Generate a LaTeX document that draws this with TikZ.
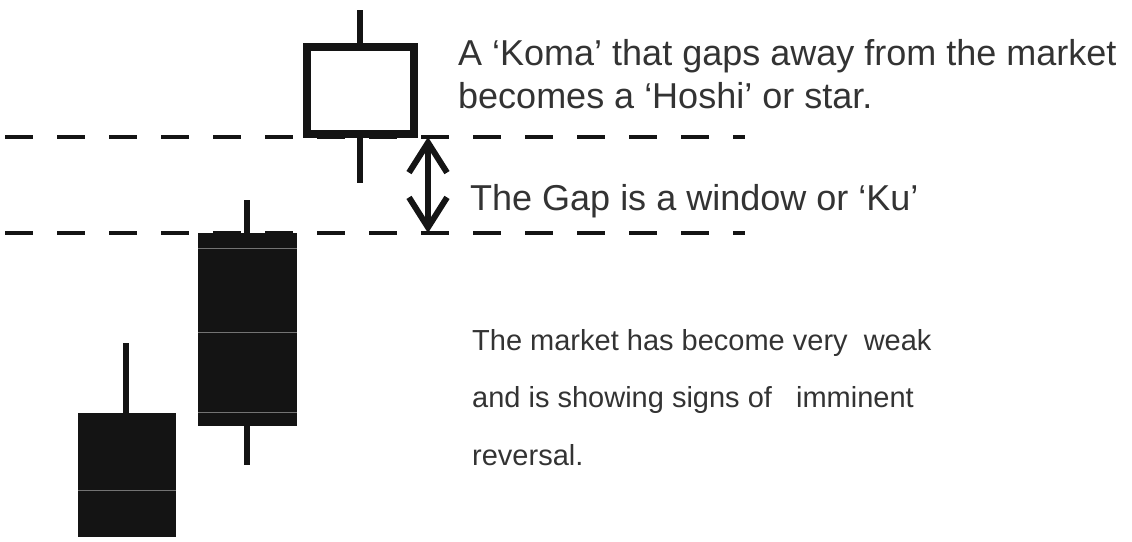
\documentclass[tikz,border=0pt]{standalone}
\usepackage{fontspec}
\setmainfont{Liberation Sans}
\usetikzlibrary{arrows.meta}
\definecolor{inkgray}{HTML}{333333}
\definecolor{candleblack}{HTML}{141414}
\tikzset{
  gapline/.style={line width=4pt, dash pattern=on 28pt off 24pt, candleblack},
  wick/.style={line width=6.5pt, candleblack},
  bearbody/.style={fill=candleblack},
  starbody/.style={draw=candleblack, line width=8pt, fill=white},
  scanline/.style={line width=0.8pt, black!55},
  gaparrow/.style={line width=6pt, candleblack,
    {Straight Barb[length=30pt,width=38pt]}-{Straight Barb[length=30pt,width=38pt]}},
  bigtext/.style={inkgray, inner sep=0pt, anchor=base west, align=left,
    font=\fontsize{36}{43}\selectfont},
  smalltext/.style={inkgray, inner sep=0pt, anchor=base west, align=left,
    font=\fontsize{29}{57.5}\selectfont}
}

\begin{document}
\begin{tikzpicture}[x=1pt,y=-1pt]
  \useasboundingbox (0,0) rectangle (1132,541);
  % the two levels of the gap
  \coordinate (gaptop) at (428,137);
  \coordinate (gapbot) at (428,233);
  \draw[gapline] (5,137) -- (745,137);
  \draw[gapline] (5,233) -- (745,233);
  % first black candle
  \draw[wick] (126,343) -- (126,413);
  \fill[bearbody] (78,413) rectangle (176,537);
  \draw[scanline] (78,490) -- (176,490);
  % second black candle
  \draw[wick] (247,200) -- (247,465);
  \fill[bearbody] (198,233) rectangle (297,426);
  \draw[scanline] (198,248) -- (297,248);
  \draw[scanline] (198,332) -- (297,332);
  \draw[scanline] (198,412) -- (297,412);
  % the star
  \draw[wick] (360,10) -- (360,183);
  \draw[starbody] (307,47) rectangle (414,134);
  % the window
  \draw[gaparrow] (gaptop) -- (gapbot);
  % texts, placed by the baseline of their last line
  \node[bigtext] (komatext) at (458,108)
    {A ‘Koma’ that gaps away from the market\\becomes a ‘Hoshi’ or star.};
  \node[bigtext] (gaptext) at (470,210) {The Gap is a window or ‘Ku’};
  \node[smalltext] (weaktext) at (472,465)
    {The market has become very\ \ weak\\and is showing signs of\ \ \ imminent\\reversal.};
\end{tikzpicture}
\end{document}
